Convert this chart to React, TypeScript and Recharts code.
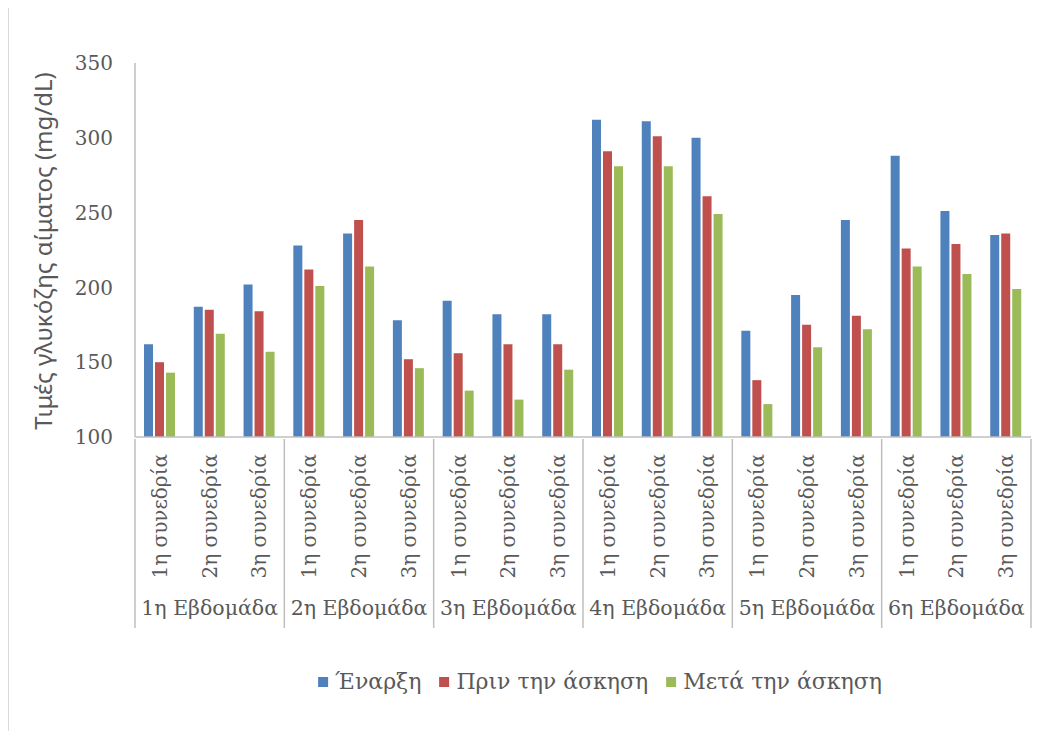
import { BarChart, Bar, XAxis, YAxis, Label } from "recharts";

const weeks = ["1η Εβδομάδα", "2η Εβδομάδα", "3η Εβδομάδα", "4η Εβδομάδα", "5η Εβδομάδα", "6η Εβδομάδα"];
const sessions = ["1η συνεδρία", "2η συνεδρία", "3η συνεδρία"];

const start = [162, 187, 202, 228, 236, 178, 191, 182, 182, 312, 311, 300, 171, 195, 245, 288, 251, 235];
const before = [150, 185, 184, 212, 245, 152, 156, 162, 162, 291, 301, 261, 138, 175, 181, 226, 229, 236];
const after = [143, 169, 157, 201, 214, 146, 131, 125, 145, 281, 281, 249, 122, 160, 172, 214, 209, 199];

const yTicks = [100, 150, 200, 250, 300, 350];

const series = [
  { key: "start", name: "Έναρξη", fill: "#4f81bd" },
  { key: "before", name: "Πριν την άσκηση", fill: "#c0504d" },
  { key: "after", name: "Μετά την άσκηση", fill: "#9bbb59" },
];

const data = start.map((v, i) => ({
  id: i,
  week: weeks[Math.floor(i / 3)],
  session: sessions[i % 3],
  start: v,
  before: before[i],
  after: after[i],
}));

const W = 1053;
const H = 630;
const M = { top: 56, right: 31, left: 0, bottom: 0 };
const Y_W = 126;
const X_H = 200;
const PLOT_W = W - M.left - M.right - Y_W;
const BAND = PLOT_W / data.length;

const serif = "'DejaVu Serif', serif";
const textColor = "#595959";
const lineColor = "#bfbfbf";

function CategoryTick(props: any) {
  const { x, y, payload } = props;
  const i = payload.index;
  const row = data[i];
  return (
    <g>
      {i % 3 === 0 && (
        <line x1={x - BAND / 2} x2={x - BAND / 2} y1={y} y2={y + 189} stroke={lineColor} strokeWidth={1.5} />
      )}
      {i === data.length - 1 && (
        <line x1={x + BAND / 2} x2={x + BAND / 2} y1={y} y2={y + 189} stroke={lineColor} strokeWidth={1.5} />
      )}
      <text
        x={x + 7}
        y={y + 15}
        transform={`rotate(-90 ${x + 7} ${y + 15})`}
        textAnchor="end"
        fontFamily={serif}
        fontSize={20}
        fill={textColor}
      >
        {row.session}
      </text>
      {i % 3 === 1 && (
        <text x={x} y={y + 176} textAnchor="middle" fontFamily={serif} fontSize={20.5} fill={textColor}>
          {row.week}
        </text>
      )}
    </g>
  );
}

export default function App() {
  return (
    <div
      style={{
        position: "relative",
        marginTop: -2,
        width: 1054,
        height: 725,
        borderTop: "1px solid #d9d9d9",
        borderLeft: "1px solid #d9d9d9",
        background: "#fff",
      }}
    >
      <BarChart width={W} height={H} data={data} margin={M} barSize={9} barGap={2}>
        <XAxis
          dataKey="id"
          interval={0}
          height={X_H}
          tick={CategoryTick}
          tickLine={false}
          tickSize={0}
          axisLine={{ stroke: lineColor, strokeWidth: 1.5 }}
        />
        <YAxis
          width={Y_W}
          domain={[100, 350]}
          ticks={yTicks}
          interval={0}
          tickLine={false}
          tickSize={0}
          tickMargin={22}
          axisLine={{ stroke: lineColor, strokeWidth: 1.5 }}
          tick={{ fontFamily: serif, fontSize: 20, fill: textColor }}
        >
          <Label
            content={() => (
              <text
                x={43}
                y={244}
                transform="rotate(-90 43 244)"
                textAnchor="middle"
                fontFamily="'Noto Sans', sans-serif"
                fontSize={24}
                fill={textColor}
              >
                Τιμές γλυκόζης αίματος (mg/dL)
              </text>
            )}
          />
        </YAxis>
        {series.map((s) => (
          <Bar key={s.key} dataKey={s.key} name={s.name} fill={s.fill} isAnimationActive={false} />
        ))}
      </BarChart>
      <div
        style={{
          position: "absolute",
          left: 591,
          top: 662,
          transform: "translateX(-50%)",
          display: "flex",
          alignItems: "center",
          gap: 18,
          fontFamily: serif,
          fontSize: 22,
          lineHeight: "26px",
          color: textColor,
          whiteSpace: "nowrap",
        }}
      >
        {series.map((s) => (
          <div key={s.key} style={{ display: "flex", alignItems: "center" }}>
            <span style={{ display: "inline-block", width: 10, height: 10, background: s.fill, marginRight: 7 }} />
            <span>{s.name}</span>
          </div>
        ))}
      </div>
    </div>
  );
}
